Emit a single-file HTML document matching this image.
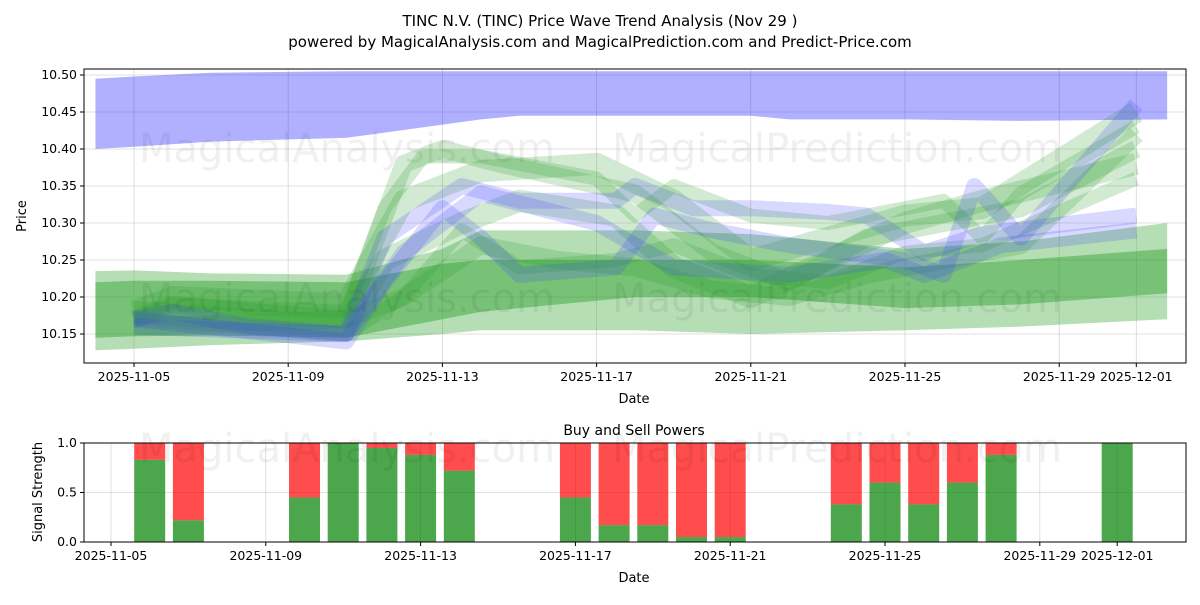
<!DOCTYPE html>
<html><head><meta charset="utf-8"><style>
body{margin:0;background:#fff;font-family:"Liberation Sans","DejaVu Sans",sans-serif}
svg text{font-family:"DejaVu Sans","Liberation Sans",sans-serif}
</style></head><body>
<svg id="c" width="1200" height="600" viewBox="0 0 1200 600" xmlns="http://www.w3.org/2000/svg">
<rect width="1200" height="600" fill="#fff"/>
<text x="600" y="26" text-anchor="middle" font-size="15">TINC N.V. (TINC) Price Wave Trend Analysis (Nov 29 )</text>
<text x="600" y="47" text-anchor="middle" font-size="15">powered by MagicalAnalysis.com and MagicalPrediction.com and Predict-Price.com</text>
<g id="topg"></g><g id="botg"></g>
</svg>
<script>
const NS="http://www.w3.org/2000/svg";
function mk(tag,attrs,parent){const e=document.createElementNS(NS,tag);for(const k in attrs)e.setAttribute(k,attrs[k]);parent.appendChild(e);return e;}
// ---------- data ----------
const priceTicks=[10.15,10.20,10.25,10.30,10.35,10.40,10.45,10.50];
const dateTickDays=[0,4,8,12,16,20,24,26];
const dateTickLabels=["2025-11-05","2025-11-09","2025-11-13","2025-11-17","2025-11-21","2025-11-25","2025-11-29","2025-12-01"];
const blueBandDays=[-1,0,2,5.5,9,10,16,17,20,23,26.8];
const blueBandUpper=[10.495,10.498,10.503,10.505,10.505,10.505,10.505,10.505,10.505,10.505,10.505];
const blueBandLower=[10.40,10.403,10.41,10.415,10.44,10.445,10.445,10.44,10.44,10.438,10.44];
const bandDays=[-1,0,2,5.5,8,9,13,16,20,23,26.8];
const paleUpper=[10.235,10.236,10.232,10.23,10.265,10.29,10.29,10.285,10.265,10.275,10.30];
const paleLower=[10.128,10.13,10.135,10.14,10.15,10.155,10.155,10.15,10.155,10.16,10.17];
const darkUpper=[10.22,10.222,10.222,10.22,10.245,10.25,10.25,10.25,10.24,10.25,10.265];
const darkLower=[10.145,10.147,10.148,10.145,10.17,10.18,10.20,10.20,10.185,10.19,10.205];
const greenLines=[
 [[0,10.17],[1,10.19],[5.5,10.18],[6.5,10.32],[7.5,10.39],[9,10.39],[12,10.36],[13,10.31],[14,10.35],[16,10.31],[18,10.3],[20,10.32],[21,10.33],[22,10.28],[23,10.34],[26,10.43]],
 [[0,10.16],[5.5,10.17],[7,10.38],[8,10.40],[9.5,10.38],[13,10.34],[15,10.26],[17,10.22],[19,10.28],[21,10.3],[23,10.32],[26,10.40]],
 [[0,10.18],[5.5,10.16],[6.5,10.25],[8.5,10.30],[10,10.33],[12.5,10.31],[14,10.24],[16,10.2],[18,10.25],[20,10.3],[22,10.33],[26,10.38]],
 [[0,10.17],[5.5,10.15],[7,10.2],[8.5,10.29],[10,10.24],[12.5,10.25],[14,10.27],[16,10.23],[18,10.22],[20,10.26],[22,10.27],[26,10.36]],
 [[0,10.17],[1,10.19],[3,10.18],[5.5,10.17],[7,10.2],[9,10.27],[11,10.25],[13,10.24],[15,10.21],[17,10.2],[19,10.23],[21,10.25],[23,10.27],[26,10.42]],
 [[0,10.18],[1,10.2],[5.5,10.19],[7,10.33],[9,10.37],[12,10.38],[14,10.33],[16,10.25],[18,10.28],[20,10.31],[22,10.32],[26,10.45]]
];
const blueLines=[
 [[0,10.17],[1,10.18],[3,10.16],[5.5,10.15],[6.5,10.28],[8.5,10.35],[10,10.33],[12.5,10.33],[13,10.35],[14.5,10.32],[16,10.32],[18,10.315],[19,10.31],[20.5,10.26],[22,10.285],[26,10.31]],
 [[0,10.17],[5.5,10.14],[6.5,10.22],[8,10.32],[9,10.28],[10,10.23],[12.5,10.24],[13.5,10.31],[15,10.29],[17,10.27],[20,10.25],[21,10.23],[21.8,10.35],[23,10.28],[26,10.46]],
 [[0,10.16],[5.5,10.15],[7,10.26],[9,10.34],[12,10.3],[14,10.24],[17,10.23],[19.5,10.25],[20.5,10.23],[22.5,10.27],[26,10.29]]
];
const barDays=[1,2,5,6,7,8,9,12,13,14,15,16,19,20,21,22,23,26];
const buyPower=[0.83,0.22,0.45,1.0,0.95,0.88,0.72,0.45,0.17,0.17,0.05,0.05,0.38,0.6,0.38,0.6,0.88,1.0];
// ---------- top chart ----------
const T={l:84,r:1186,t:69,b:363};
const xT=d=>134+d*38.55;
const yT=v=>75+(10.5-v)/0.05*37;
const topG=document.getElementById('topg');
const svgEl=document.getElementById('c');
priceTicks.forEach(v=>{const y=yT(v);
 const g=mk('line',{x1:T.l,x2:T.r,y1:y,y2:y,stroke:'#b0b0b0','stroke-width':0.8,'stroke-opacity':0.5},topG);
 
 mk('line',{x1:T.l-4,x2:T.l,y1:y,y2:y,stroke:'#000'},topG);
 const t=mk('text',{x:T.l-7,y:y+4,'text-anchor':'end','font-size':12.5},topG);t.textContent=v.toFixed(2);
 
});
dateTickDays.forEach((d,i)=>{const x=xT(d);
 mk('line',{x1:x,x2:x,y1:T.t,y2:T.b,stroke:'#b0b0b0','stroke-width':0.8,'stroke-opacity':0.5},topG);
 mk('line',{x1:x,x2:x,y1:T.b,y2:T.b+4,stroke:'#000'},topG);
 const t=mk('text',{x:x,y:T.b+18,'text-anchor':'middle','font-size':12.5},topG);t.textContent=dateTickLabels[i];
 
});
function band(days,up,lo,fill,op,name){
 let p=days.map((d,i)=>xT(d)+','+yT(up[i]));
 p=p.concat(days.map((d,i)=>xT(d)+','+yT(lo[i])).reverse());
 const e=mk('polygon',{points:p.join(' '),fill:fill,'fill-opacity':op},topG);
 
}
const clip=mk('clipPath',{id:'cp'},svgEl);mk('rect',{x:T.l,y:T.t,width:T.r-T.l,height:T.b-T.t},clip);
band(blueBandDays,blueBandUpper,blueBandLower,'#0000ff',0.31,'blue-upper-band');
band(bandDays,paleUpper,paleLower,'#2ca02c',0.35,'green-outer-band');
band(bandDays,darkUpper,darkLower,'#2ca02c',0.45,'green-inner-band');
greenLines.forEach((ln,i)=>{
 const e=mk('polyline',{points:ln.map(p=>xT(p[0])+','+yT(p[1])).join(' '),fill:'none',stroke:'#2ca02c','stroke-opacity':0.22,'stroke-width':14+i%3*4,'stroke-linejoin':'round','clip-path':'url(#cp)'},topG);
 
});
blueLines.forEach((ln,i)=>{
 const e=mk('polyline',{points:ln.map(p=>xT(p[0])+','+yT(p[1])).join(' '),fill:'none',stroke:'#4040ff','stroke-opacity':0.2,'stroke-width':16,'stroke-linejoin':'round','clip-path':'url(#cp)'},topG);
 
});
[['MagicalAnalysis.com',347,150],['MagicalPrediction.com',837,150],['MagicalAnalysis.com',347,300],['MagicalPrediction.com',837,300],['MagicalAnalysis.com',347,450],['MagicalPrediction.com',837,450]].forEach(w=>{
 const t=mk('text',{x:w[1],y:w[2]+12,'text-anchor':'middle','font-size':40,fill:'#000','fill-opacity':0.06},svgEl);t.textContent=w[0];
 
});
mk('rect',{x:T.l,y:T.t,width:T.r-T.l,height:T.b-T.t,fill:'none',stroke:'#000','stroke-width':1},topG);
let t=mk('text',{x:634,y:403,'text-anchor':'middle','font-size':13},topG);t.textContent='Date';

t=mk('text',{x:26,y:216,'text-anchor':'middle','font-size':13,transform:'rotate(-90 26 216)'},topG);t.textContent='Price';

// ---------- bottom chart ----------
const B={l:84,r:1186,t:443,b:542};
const xB=d=>111+d*38.7;
const yB=v=>542-v*99;
const botG=document.getElementById('botg');
[0,0.5,1].forEach(v=>{const y=yB(v);
 mk('line',{x1:B.l,x2:B.r,y1:y,y2:y,stroke:'#b0b0b0','stroke-width':0.8,'stroke-opacity':0.5},botG);
 mk('line',{x1:B.l-4,x2:B.l,y1:y,y2:y,stroke:'#000'},botG);
 const t=mk('text',{x:B.l-7,y:y+4,'text-anchor':'end','font-size':12.5},botG);t.textContent=v.toFixed(1);
 
});
dateTickDays.forEach((d,i)=>{const x=xB(d);
 mk('line',{x1:x,x2:x,y1:B.t,y2:B.b,stroke:'#b0b0b0','stroke-width':0.8,'stroke-opacity':0.5},botG);
 mk('line',{x1:x,x2:x,y1:B.b,y2:B.b+4,stroke:'#000'},botG);
 const t=mk('text',{x:x,y:B.b+18,'text-anchor':'middle','font-size':12.5},botG);t.textContent=dateTickLabels[i];
 
});
barDays.forEach((d,i)=>{const x=xB(d)-15.5,g=buyPower[i];
 const s=mk('rect',{x:x,y:yB(1),width:31,height:yB(g)-yB(1),fill:'#ff0000','fill-opacity':0.7},botG);
 
 const b=mk('rect',{x:x,y:yB(g),width:31,height:yB(0)-yB(g),fill:'#008000','fill-opacity':0.7},botG);
 
});
mk('rect',{x:B.l,y:B.t,width:B.r-B.l,height:B.b-B.t,fill:'none',stroke:'#000','stroke-width':1},botG);
t=mk('text',{x:634,y:435,'text-anchor':'middle','font-size':14},botG);t.textContent='Buy and Sell Powers';

t=mk('text',{x:634,y:582,'text-anchor':'middle','font-size':13},botG);t.textContent='Date';

t=mk('text',{x:42,y:492,'text-anchor':'middle','font-size':13,transform:'rotate(-90 42 492)'},botG);t.textContent='Signal Strength';

</script>
</body></html>
